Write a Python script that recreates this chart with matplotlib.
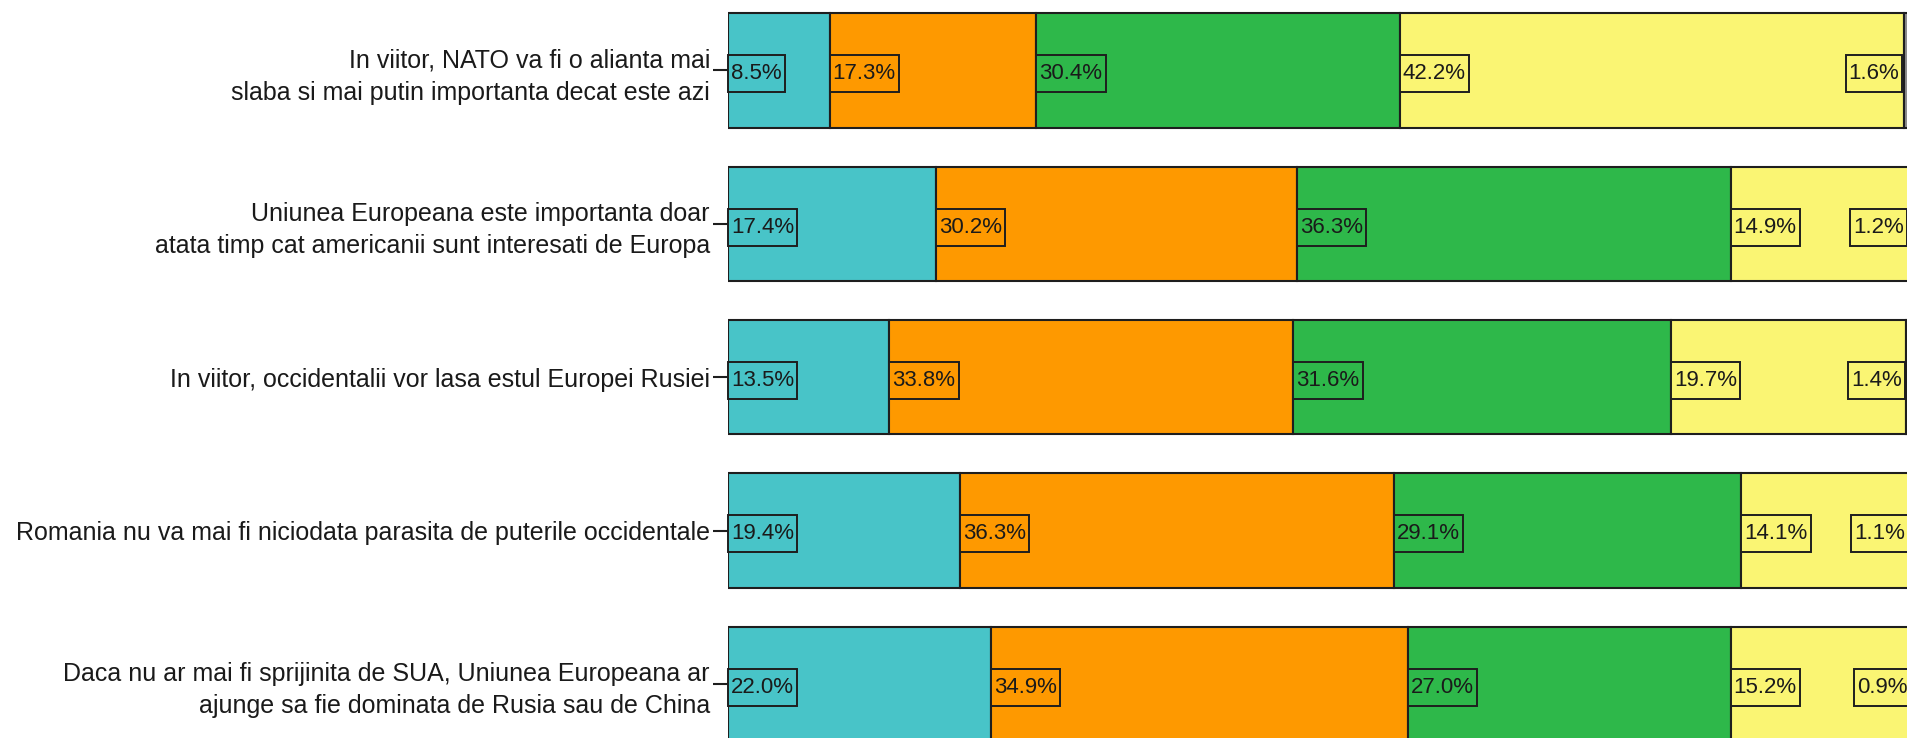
import matplotlib.pyplot as plt
import numpy as np
from matplotlib.path import Path

questions = [
    "In viitor, NATO va fi o alianta mai\nslaba si mai putin importanta decat este azi",
    "Uniunea Europeana este importanta doar\natata timp cat americanii sunt interesati de Europa",
    "In viitor, occidentalii vor lasa estul Europei Rusiei",
    "Romania nu va mai fi niciodata parasita de puterile occidentale",
    "Daca nu ar mai fi sprijinita de SUA, Uniunea Europeana ar\najunge sa fie dominata de Rusia sau de China",
]

seg1 = [8.5, 17.4, 13.5, 19.4, 22.0]
seg2 = [17.3, 30.2, 33.8, 36.3, 34.9]
seg3 = [30.4, 36.3, 31.6, 29.1, 27.0]
seg4 = [42.2, 14.9, 19.7, 14.1, 15.2]
seg5 = [1.6, 1.2, 1.4, 1.1, 0.9]

colors = ["#48c4c8", "#fe9900", "#2eb84a", "#faf573", "#8c8c8c"]

plt.rcParams["font.family"] = ["Liberation Sans", "DejaVu Sans"]

PX, PY = 0.14, 0.36


# label box: small pad left/right, taller top/bottom
def label_box(x0, y0, width, height, mutation_size):
    px = PX * mutation_size
    py = PY * mutation_size
    return Path([(x0 - px, y0 - py), (x0 + width + px, y0 - py),
                 (x0 + width + px, y0 + height + py), (x0 - px, y0 + height + py),
                 (x0 - px, y0 - py)], closed=True)


fig = plt.figure(figsize=(19.08, 7.38), dpi=100)
ax = fig.add_axes([728 / 1908, 0, 1 - 728 / 1908, 1])

ypos = np.arange(len(questions))
left = np.zeros(len(questions))
fs_val = 16

for k, vals in enumerate([seg1, seg2, seg3, seg4, seg5]):
    vals = np.array(vals)
    ax.barh(ypos, vals, left=left, height=0.747, color=colors[k],
            edgecolor="#1e1e1e", linewidth=1.5)
    for i, v in enumerate(vals):
        if k < 4:
            x, ha, dx = left[i], "left", PX * fs_val
        else:
            x, ha, dx = left[i], "right", -PX * fs_val - 1
        ax.annotate(f"{v:.1f}%", (x, ypos[i]), xytext=(dx, -2.5),
                    textcoords="offset points", ha=ha, va="center",
                    fontsize=fs_val, color="#1a1a1a", annotation_clip=False,
                    bbox=dict(boxstyle=label_box,
                              fc=colors[3] if k == 4 else colors[k],
                              ec="#1e1e1e", lw=1.4))
    left = left + vals

ax.set_xlim(0, (1908 - 728) / 11.95)
ax.set_ylim(4.353, -0.4597)
ax.set_yticks(ypos)
ax.set_yticklabels(questions, fontsize=18, color="#1a1a1a",
                   multialignment="right", linespacing=1.42)
ax.tick_params(axis="y", length=11, width=1.5, color="#1e1e1e", pad=2)
ax.tick_params(axis="x", bottom=False, labelbottom=False)
for s in ax.spines.values():
    s.set_visible(False)

plt.savefig("out.png", dpi=100)
